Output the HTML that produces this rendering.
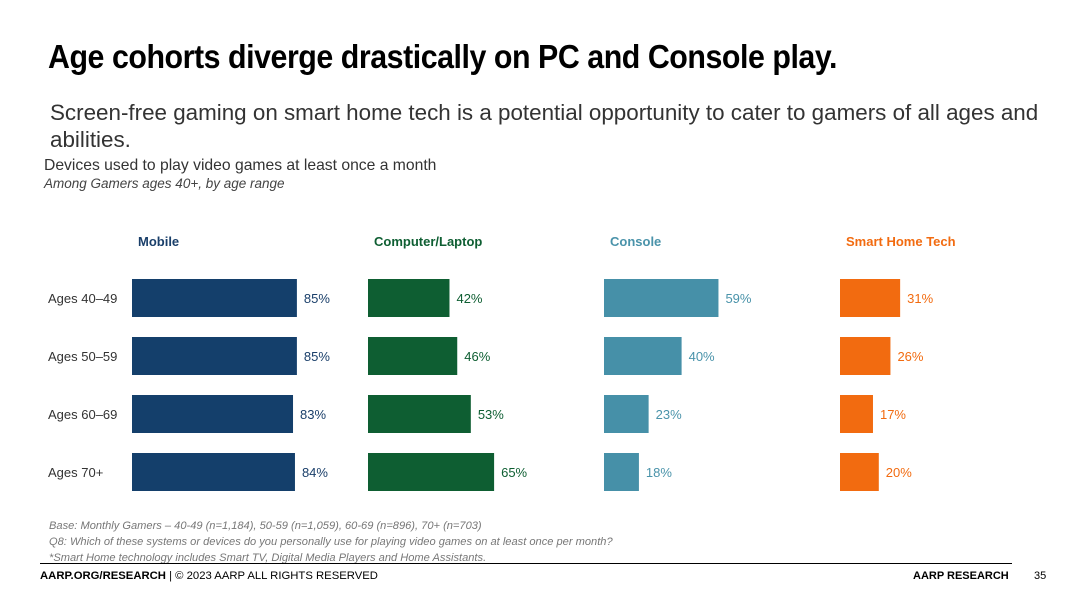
<!DOCTYPE html>
<html><head><meta charset="utf-8"><style>
body{margin:0;width:1080px;height:608px;background:#fff;font-family:"Liberation Sans",sans-serif;position:relative;overflow:hidden}
.a{position:absolute;white-space:nowrap}
</style></head><body>
<div class="a" style="left:48px;top:38px;font-size:33px;font-weight:bold;color:#000;letter-spacing:-0.5px;transform:scaleX(0.92);transform-origin:0 0">Age cohorts diverge drastically on PC and Console play.</div>
<div class="a" style="left:50px;top:99px;font-size:22.4px;color:#333;line-height:27px;white-space:normal;width:1010px">Screen-free gaming on smart home tech is a potential opportunity to cater to gamers of all ages and abilities.</div>
<div class="a" style="left:44px;top:157px;font-size:15.7px;color:#333">Devices used to play video games at least once a month</div>
<div class="a" style="left:44px;top:176px;font-size:13.5px;font-style:italic;color:#444">Among Gamers ages 40+, by age range</div>
<svg id="chart" width="1080" height="608" style="position:absolute;left:0;top:0"></svg>
<div class="a" style="left:49px;top:518px;font-size:11.1px;font-style:italic;color:#777;line-height:16px">Base: Monthly Gamers – 40-49 (n=1,184), 50-59 (n=1,059), 60-69 (n=896), 70+ (n=703)<br>Q8: Which of these systems or devices do you personally use for playing video games on at least once per month?<br>*Smart Home technology includes Smart TV, Digital Media Players and Home Assistants.</div>
<div class="a" style="left:40px;top:563px;width:972px;height:1px;background:#000"></div>
<div class="a" style="left:40px;top:570px;font-size:11.3px;color:#000"><b>AARP.ORG/RESEARCH</b> | © 2023 AARP ALL RIGHTS RESERVED</div>
<div class="a" style="left:913px;top:570px;font-size:11px;font-weight:bold;color:#000">AARP RESEARCH</div>
<div class="a" style="left:1034px;top:570px;font-size:11px;color:#000">35</div>
<script>
const categories=["Ages 40–49","Ages 50–59","Ages 60–69","Ages 70+"];
const seriesNames=["Mobile","Computer/Laptop","Console","Smart Home Tech"];
const mobile=[85,85,83,84];
const computer=[42,46,53,65];
const consoleVals=[59,40,23,18];
const smartHome=[31,26,17,20];
const series=[mobile,computer,consoleVals,smartHome];
const colors=["#143f6b","#0e5e32","#4690a8","#f26b10"];
const headColors=["#1a3f6a","#0e5e32","#4a93aa","#f26b10"];
const svg=document.getElementById('chart');
const NS="http://www.w3.org/2000/svg";
const panelX=[132,368,604,840];
const scale=1.94;
const x=(p,v)=>panelX[p]+v*scale;
const y=i=>279+i*58;
const bh=38;
function mk(t,a){const e=document.createElementNS(NS,t);for(const k in a)e.setAttribute(k,a[k]);svg.appendChild(e);return e;}
categories.forEach((c,i)=>{
  const t=mk('text',{x:48,y:y(i)+bh/2+5,'font-size':13,fill:'#333','font-family':'Liberation Sans'});
  t.textContent=c;
  
  
});
series.forEach((s,p)=>{
  const h=mk('text',{x:panelX[p]+6,y:246,'font-size':13,'font-weight':'bold',fill:headColors[p],'font-family':'Liberation Sans'});
  h.textContent=seriesNames[p];
  
  
  s.forEach((v,i)=>{
    const r=mk('rect',{x:panelX[p],y:y(i),width:x(p,v)-panelX[p],height:bh,fill:colors[p]});
    
    
    const l=mk('text',{x:x(p,v)+7,y:y(i)+bh/2+5,'font-size':13,fill:headColors[p],'font-family':'Liberation Sans'});
    l.textContent=v+'%';
    
    
  });
});
</script>
</body></html>
